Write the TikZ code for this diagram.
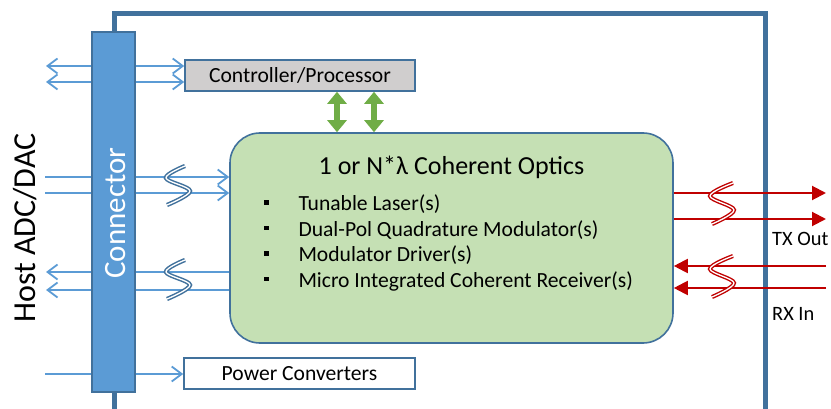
\documentclass[tikz,border=0pt]{standalone}
\usepackage{fontspec}
\setmainfont{Carlito}
\usetikzlibrary{arrows.meta}
\definecolor{frameblue}{HTML}{41719C}
\definecolor{connblue}{HTML}{5B9BD5}
\definecolor{ctrlgray}{HTML}{D0CECE}
\definecolor{optgreen}{HTML}{C5E0B4}
\definecolor{arrgreen}{HTML}{70AD47}
\definecolor{txred}{HTML}{C00000}
\pgfdeclarelayer{bg}
\pgfsetlayers{bg,main}
\begin{document}
\begin{tikzpicture}[x=1pt,y=-1pt,
  boxnode/.style={draw=frameblue,line width=1.6pt,inner sep=0pt},
  txt/.style={inner sep=0pt,font=\fontsize{21.6}{26}\selectfont},
  sidetxt/.style={inner sep=0pt,font=\fontsize{20.4}{24}\selectfont,anchor=base west},
  barrow/.style={draw=connblue,line width=1.8pt,arrows={-Straight Barb[length=10pt,width=15pt]}},
  rarrow/.style={draw=txred,line width=2pt,-{Triangle[length=14pt,width=14pt]}},
  garrow/.style={draw=arrgreen,line width=6pt,{Triangle[length=12pt,width=19pt]}-{Triangle[length=12pt,width=19pt]}},
  bluebreak/.style={draw=frameblue,double=white,double distance=1.3pt,line width=1.5pt},
  redbreak/.style={draw=txred,double=white,double distance=1.3pt,line width=1.4pt},
  bul/.style={fill=black,minimum size=4.5pt,inner sep=0pt}]
\useasboundingbox (0,0) rectangle (831,409);

% nodes
\node[boxnode,fill=connblue,minimum width=43pt,minimum height=360pt] (conn) at (113.5,212) {};
\node[txt,rotate=90,anchor=base,text=white,font=\fontsize{31}{36}\selectfont] (connlabel) at (125,213) {Connector};
\node[txt,rotate=90,anchor=base,font=\fontsize{32}{38}\selectfont] (host) at (35,228) {Host ADC/DAC};
\node[boxnode,fill=ctrlgray,minimum width=230pt,minimum height=31pt,txt] (ctrl) at (300,75.5) {Controller/Processor};
\node[boxnode,fill=white,minimum width=231pt,minimum height=31pt,txt] (pow) at (299.5,373.5) {Power Converters};
\node[boxnode,fill=optgreen,rounded corners=30pt,minimum width=443pt,minimum height=210pt] (opt) at (451.5,238) {};
\node[txt,anchor=base,font=\fontsize{26}{31}\selectfont] (title) at (451.5,175) {1 or N*λ Coherent Optics};
\node[bul] (b1) at (266.7,202.7) {};
\node[bul] (b2) at (266.7,228.2) {};
\node[bul] (b3) at (266.7,253.7) {};
\node[bul] (b4) at (266.7,279.2) {};
\node[txt,anchor=base west] (i1) at (298.3,210.7) {Tunable Laser(s)};
\node[txt,anchor=base west] (i2) at (298.3,236.2) {Dual-Pol Quadrature Modulator(s)};
\node[txt,anchor=base west] (i3) at (298.3,261.7) {Modulator Driver(s)};
\node[txt,anchor=base west] (i4) at (298.3,287.2) {Micro Integrated Coherent Receiver(s)};
\node[sidetxt] (tx) at (772,246) {TX Out};
\node[sidetxt] (rx) at (772,320) {RX In};

% free ends
\coordinate (cl1) at (46,66);
\coordinate (cl2) at (46,82);
\coordinate (ml1) at (45,177);
\coordinate (ml2) at (45,193);
\coordinate (ll1) at (46,272);
\coordinate (ll2) at (46,290);
\coordinate (pl) at (45,374);
\coordinate (t1) at (826,193);
\coordinate (t2) at (826,219);
\coordinate (r1) at (826,266);
\coordinate (r2) at (826,288);
\coordinate (g1) at (337,0);
\coordinate (g2) at (374,0);

\begin{pgfonlayer}{bg}
  \draw[frameblue,line width=5pt] (114,14) rectangle (765,411);
  \draw[barrow,arrows={Straight Barb[length=10pt,width=15pt]-Straight Barb[length=10pt,width=15pt]}] (cl1) -- (ctrl.west |- cl1);
  \draw[barrow,arrows={Straight Barb[length=10pt,width=15pt]-Straight Barb[length=10pt,width=15pt]}] (cl2) -- (ctrl.west |- cl2);
  \draw[barrow] (ml1) -- (opt.west |- ml1);
  \draw[barrow] (ml2) -- (opt.west |- ml2);
  \draw[barrow] (opt.west |- ll1) -- (ll1);
  \draw[barrow] (opt.west |- ll2) -- (ll2);
  \draw[barrow] (pl) -- (pow.west |- pl);
\end{pgfonlayer}

\draw[rarrow] (opt.east |- t1) -- (t1);
\draw[rarrow] (opt.east |- t2) -- (t2);
\draw[rarrow] (r1) -- (opt.east |- r1);
\draw[rarrow] (r2) -- (opt.east |- r2);
\draw[garrow] (g1 |- ctrl.south) -- (g1 |- opt.north);
\draw[garrow] (g2 |- ctrl.south) -- (g2 |- opt.north);

% break symbols
\draw[bluebreak] plot[smooth,tension=0.6] coordinates {(185,166) (166,178) (190,191) (167,205)};
\draw[bluebreak] plot[smooth,tension=0.6] coordinates {(185,260) (166,272) (190,285) (167,299)};
\draw[redbreak] plot[smooth,tension=0.6] coordinates {(733,183) (710,196) (734,210) (712,224)};
\draw[redbreak] plot[smooth,tension=0.6] coordinates {(733,256) (710,269) (734,283) (712,297)};
\end{tikzpicture}
\end{document}
